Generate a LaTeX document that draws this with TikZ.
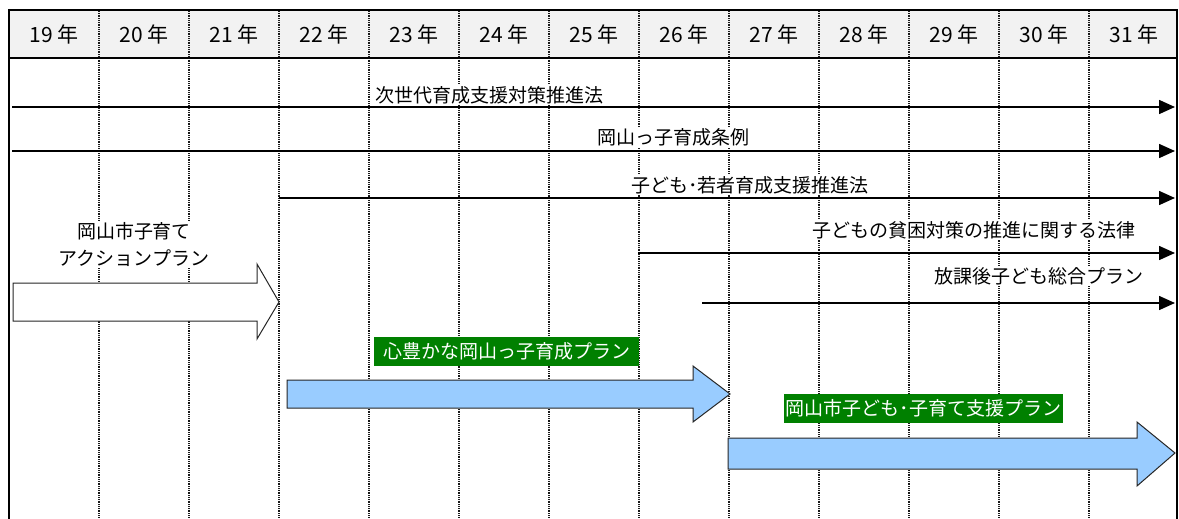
\documentclass[tikz,border=0pt]{standalone}
\usepackage{fontspec}
\setmainfont{Noto Sans CJK JP}
\usetikzlibrary{arrows.meta}
\definecolor{hdrgray}{HTML}{F2F2F2}
\definecolor{planblue}{HTML}{99CCFF}
\definecolor{plangreen}{HTML}{008000}
\tikzset{
  gridline/.style={dash pattern=on 1pt off 0.8pt, line width=1.1pt, black!90},
  frameline/.style={line width=2pt, black},
  lawarrow/.style={line width=1.6pt, black, -{Triangle[length=16pt,width=14pt]}},
  lawlabel/.style={fill=white, inner sep=1pt, font=\fontsize{19}{21}\selectfont},
  yearlabel/.style={inner sep=0pt, font=\fontsize{21}{23}\selectfont},
  planlabel/.style={fill=plangreen, text=white, inner sep=0pt, minimum height=29pt, font=\fontsize{19}{21}\selectfont},
  blockarrow/.style={draw=black!85, line width=1pt, line join=miter},
}
\begin{document}
\begin{tikzpicture}[x=1pt,y=-1pt]
\useasboundingbox (0,0) rectangle (1179,519);
% header background
\fill[hdrgray] (9,10) rectangle (1177,58);
% grid lines
\foreach \i in {1,...,12} {
  \draw[gridline] ({9+90*\i},11) -- ({9+90*\i},519);
}
% frame
\draw[frameline] (9,10) -- (1177,10);
\draw[frameline] (9,58) -- (1177,58);
\draw[frameline] (9,9) -- (9,519);
\draw[line width=1.5pt] (1177,9) -- (1177,519);
% year labels
\foreach \y [count=\k from 0] in {19,20,21,22,23,24,25,26,27,28,29,30,31} {
  \node[yearlabel] (yr\y) at ({54+90*\k},34) {\y\ 年};
}
% law labels
\node[lawlabel] (t1) at (489,95) {次世代育成支援対策推進法};
\node[lawlabel] (t2) at (673,137) {岡山っ子育成条例};
\node[lawlabel] (t3) at (750,185) {子ども･若者育成支援推進法};
\node[lawlabel] (t4) at (974,230) {子どもの貧困対策の推進に関する法律};
\node[lawlabel] (t5) at (1039,276) {放課後子ども総合プラン};
\node[lawlabel, align=center, font=\fontsize{19}{27}\selectfont] (t0) at (134,245) {岡山市子育て\\アクションプラン};
% law arrows
\coordinate (a1s) at (12,107);   \coordinate (a1e) at (1175,107);
\coordinate (a2s) at (12,151);   \coordinate (a2e) at (1175,151);
\coordinate (a3s) at (279,198);  \coordinate (a3e) at (1175,198);
\coordinate (a4s) at (638,253);  \coordinate (a4e) at (1175,253);
\coordinate (a5s) at (702,303);  \coordinate (a5e) at (1175,303);
\draw[lawarrow] (a1s) -- (a1e);
\draw[lawarrow] (a2s) -- (a2e);
\draw[lawarrow] (a3s) -- (a3e);
\draw[lawarrow] (a4s) -- (a4e);
\draw[lawarrow] (a5s) -- (a5e);
% block arrows
\draw[blockarrow, fill=white] (13,283) -- (257,283) -- (257,264) -- (279,302) -- (257,339) -- (257,321) -- (13,321) -- cycle;
\draw[blockarrow, fill=planblue] (287,380) -- (693,380) -- (693,366) -- (730,394) -- (693,422) -- (693,408) -- (287,408) -- cycle;
\draw[blockarrow, fill=planblue] (728,438) -- (1137,438) -- (1137,422) -- (1175,453) -- (1137,486) -- (1137,469) -- (728,469) -- cycle;
% plan labels
\node[planlabel, minimum width=265pt] (p1) at (506.5,351.5) {心豊かな岡山っ子育成プラン};
\node[planlabel, minimum width=279pt] (p2) at (923.5,408) {岡山市子ども･子育て支援プラン};
\end{tikzpicture}
\end{document}
